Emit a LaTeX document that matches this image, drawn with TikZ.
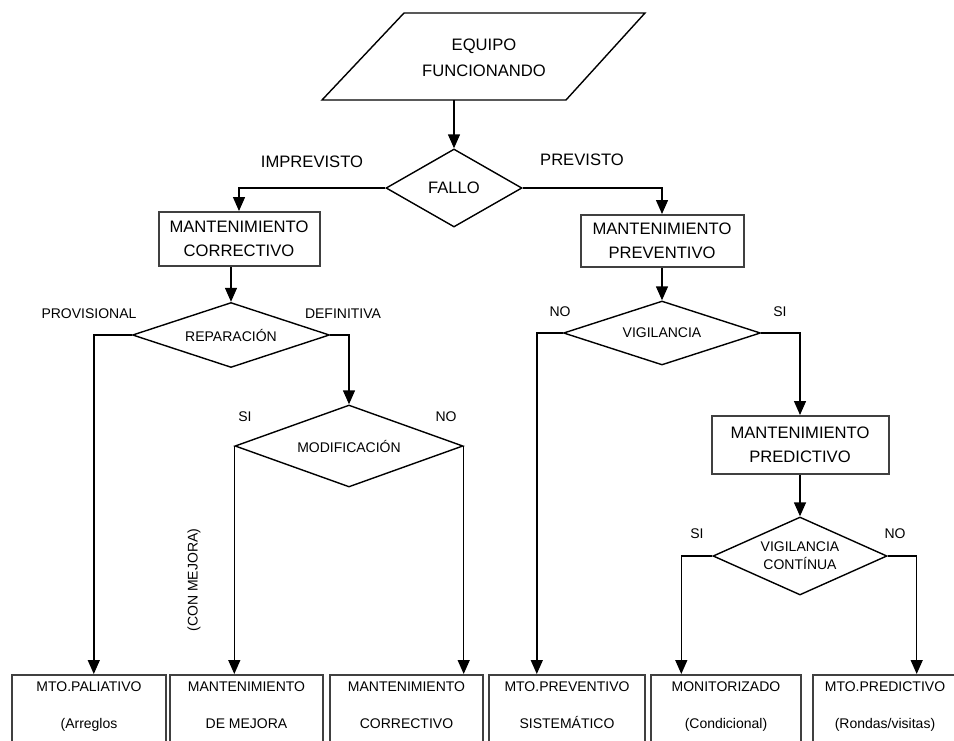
\documentclass[tikz,border=0pt]{standalone}
\usepackage{fontspec}
\setmainfont{Liberation Sans}
\usetikzlibrary{arrows.meta,shapes.geometric,calc}

\begin{document}
\begin{tikzpicture}[x=0.5pt, y=-0.5pt, line width=0.7pt,
  big/.style={font=\fontsize{8.3}{12}\selectfont, align=center},
  sml/.style={font=\fontsize{7}{9}\selectfont, align=center},
  caja/.style={big, draw=black!75, line width=1pt, inner sep=0pt},
  rombo/.style={sml, draw, diamond, inner sep=0pt},
  hoja/.style={draw=black!75, line width=1pt, anchor=north, align=center, font=\fontsize{7}{18.5}\selectfont, inner xsep=0pt, inner ysep=3.5pt, text depth=30pt},
  flecha/.style={-{Triangle[length=7pt,width=6pt]}}]
              \clip (0,0) rectangle (954,740);

              \node[big] (equipo) at (484,58) {EQUIPO\\[1pt]FUNCIONANDO};
              \draw (404,13) -- (645,13) -- (566,100) -- (322,100) -- cycle;
              \coordinate (eqb) at (454,100);

              \node[rombo, big, aspect=1.74, minimum width=68pt, minimum height=39pt] (fallo) at (454,188) {FALLO};
              \node[caja, minimum width=80.5pt, minimum height=27pt] (corr) at (239,239) {MANTENIMIENTO\\CORRECTIVO};
              \node[caja, minimum width=81.5pt, minimum height=26pt] (prev) at (662,241) {MANTENIMIENTO\\PREVENTIVO};
              \node[rombo, aspect=3, minimum width=98.5pt, minimum height=32.5pt] (rep) at (231,335) {REPARACIÓN};
              \node[rombo, aspect=2.78, minimum width=114pt, minimum height=41pt] (mod) at (349,446) {MODIFICACIÓN};
              \node[rombo, aspect=3.1, minimum width=98.5pt, minimum height=32pt] (vig) at (662,333) {VIGILANCIA};
              \node[caja, minimum width=88.5pt, minimum height=29pt] (pred) at (800,445) {MANTENIMIENTO\\PREDICTIVO};
              \node[rombo, aspect=2.23, minimum width=87pt, minimum height=39pt] (cont) at (800,556) {VIGILANCIA\\CONTÍNUA};

              \node[hoja, minimum width=77pt] (b1) at (89,674) {MTO.PALIATIVO\\(Arreglos};
              \node[hoja, minimum width=76.5pt] (b2) at (246.5,674) {MANTENIMIENTO\\DE MEJORA};
              \node[hoja, minimum width=76.5pt] (b3) at (406.5,674) {MANTENIMIENTO\\CORRECTIVO};
              \node[hoja, minimum width=78pt] (b4) at (567,674) {MTO.PREVENTIVO\\SISTEMÁTICO};
              \node[hoja, minimum width=75pt] (b5) at (726,674) {MONITORIZADO\\(Condicional)};
              \node[hoja, minimum width=72pt] (b6) at (885,674) {MTO.PREDICTIVO\\(Rondas/visitas)};

              \draw[flecha] (eqb) -- (fallo.north);
              \draw[flecha] (fallo.west) -| (corr.north);
              \draw[flecha] (fallo.east) -| (prev.north);
              \draw[flecha] (corr.south -| rep.north) -- (rep.north);
              \draw[flecha] (prev.south) -- (vig.north);
              \draw[flecha] (rep.west) -- ++(-38,0) coordinate (c1) -- (c1 |- b1.north);
              \draw[flecha] (rep.east) -| (mod.north);
              \draw[flecha] (mod.west) -- (mod.west |- b2.north);
              \draw[flecha] (mod.east) -- (mod.east |- b3.north);
              \draw[flecha] (vig.west) -- ++(-26,0) coordinate (c4) -- (c4 |- b4.north);
              \draw[flecha] (vig.east) -| (pred.north);
              \draw[flecha] (pred.south) -- (cont.north);
              \draw[flecha] (cont.west) -- ++(-31,0) coordinate (c5) -- (c5 |- b5.north);
              \draw[flecha] (cont.east) -- ++(29,0) coordinate (c6) -- (c6 |- b6.north);

              \node[big] (imprev) at (312,162) {IMPREVISTO};
              \node[big] (prevto) at (582,160) {PREVISTO};
              \node[sml] (provis) at (89,314) {PROVISIONAL};
              \node[sml] (defin) at (343,314) {DEFINITIVA};
              \node[sml] (modsi) at (245,417) {SI};
              \node[sml] (modno) at (446,417) {NO};
              \node[sml] (vigno) at (560,312) {NO};
              \node[sml] (vigsi) at (780,312) {SI};
              \node[sml] (contsi) at (697,534) {SI};
              \node[sml] (contno) at (895,534) {NO};
              \node[sml, rotate=90] (mejora) at (194,580) {(CON MEJORA)};
            \end{tikzpicture}
\end{document}
